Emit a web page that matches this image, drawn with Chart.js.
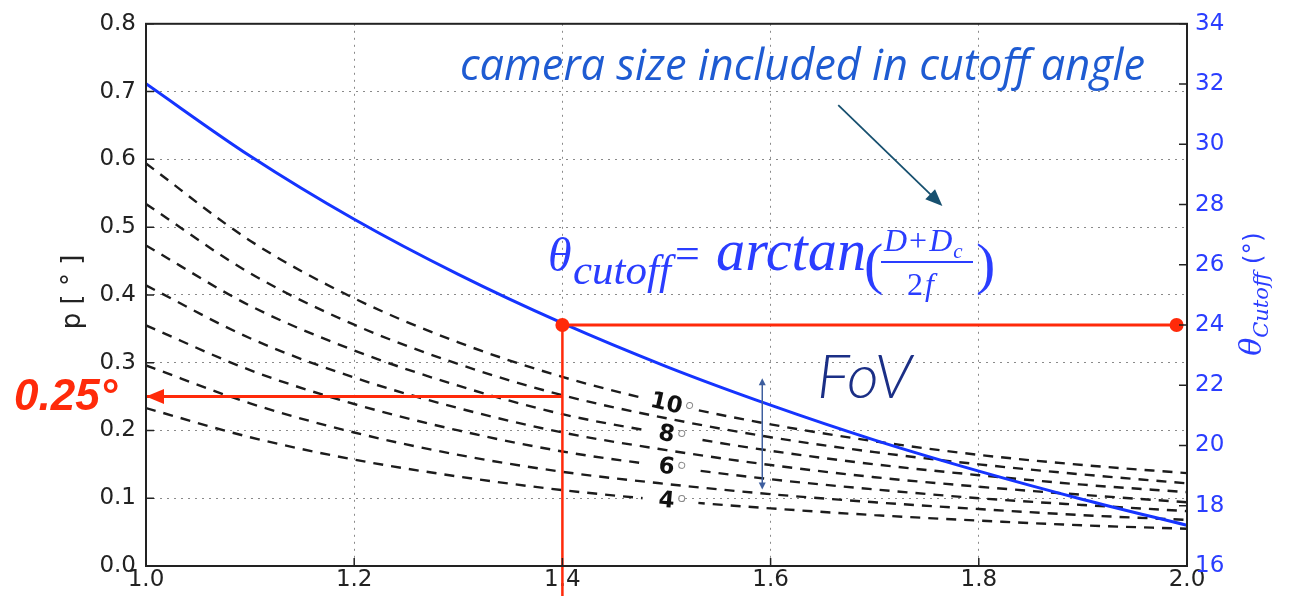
<!DOCTYPE html>
<html>
<head>
<meta charset="utf-8">
<script src="https://cdn.jsdelivr.net/npm/chart.js@4/dist/chart.umd.min.js"></script>
<style>
  html, body { margin: 0; padding: 0; background: #fff; }
  #wrap { width: 1290px; height: 597px; position: relative; }
</style>
</head>
<body>
<div id="wrap"><canvas id="cutoffChart"></canvas></div>
<script>
// focal length (x) and the cutoff angle curve (right axis, degrees)
const focal = [1.0, 1.1, 1.2, 1.3, 1.4, 1.5, 1.6, 1.7, 1.8, 1.9, 2.0];
const cutoffDeg = [32.01, 29.61, 27.51, 25.68, 24.06, 22.62, 21.34, 20.18, 19.15, 18.21, 17.35];

// pitch p [deg] for each FoV
const pitchFov10 = [0.594, 0.480, 0.395, 0.330, 0.279, 0.240, 0.209, 0.184, 0.164, 0.149, 0.137];
const pitchFov9  = [0.534, 0.432, 0.356, 0.298, 0.252, 0.218, 0.190, 0.168, 0.150, 0.135, 0.122];
const pitchFov8  = [0.473, 0.384, 0.318, 0.266, 0.224, 0.195, 0.170, 0.150, 0.134, 0.120, 0.109];
const pitchFov7  = [0.414, 0.336, 0.278, 0.233, 0.197, 0.171, 0.149, 0.131, 0.117, 0.105, 0.094];
const pitchFov6  = [0.355, 0.289, 0.239, 0.200, 0.169, 0.147, 0.128, 0.113, 0.100, 0.090, 0.081];
const pitchFov5  = [0.296, 0.240, 0.197, 0.164, 0.139, 0.121, 0.106, 0.094, 0.084, 0.075, 0.068];
const pitchFov4  = [0.233, 0.190, 0.157, 0.132, 0.112, 0.097, 0.085, 0.075, 0.067, 0.060, 0.055];
const pitchSeries = [pitchFov10, pitchFov9, pitchFov8, pitchFov7, pitchFov6, pitchFov5, pitchFov4];

// labelled curves
const fovLabels = [
  { series: pitchFov10, text: '10' },
  { series: pitchFov8, text: '8' },
  { series: pitchFov6, text: '6' },
  { series: pitchFov4, text: '4' }
];
const labelFocal = 1.5;

// the worked example in red
const markFocal = 1.4;
const markCutoff = 24;
const markPitch = 0.25;
const markEndFocal = 1.99;

// annotation arrows (data coords)
const fovArrow = { x: 1.592, from: 0.277, to: 0.113 };
const noteArrow = { x1: 1.665, y1: 31.3, x2: 1.765, y2: 27.95 };

const red = '#ff2a0a';
const curveBlue = '#1534ff';
const axisBlue = '#2a3dff';
const tickFont = { family: '"DejaVu Sans", sans-serif', size: 23 };

const xy = (arr) => focal.map((f, i) => ({ x: f, y: arr[i] }));

const datasets = [
  {
    data: [{ x: markFocal, y: markCutoff }, { x: markEndFocal, y: markCutoff }],
    yAxisID: 'y1', borderColor: red, backgroundColor: red, borderWidth: 3,
    pointRadius: 7, pointBorderWidth: 0, clip: false
  },
  {
    data: [{ x: markFocal, y: markCutoff }, { x: markFocal, y: 15 }],
    yAxisID: 'y1', borderColor: red, borderWidth: 2.5, pointRadius: 0, clip: false
  },
  {
    data: [{ x: markFocal, y: markPitch }, { x: 1.0, y: markPitch }],
    yAxisID: 'y', borderColor: red, borderWidth: 3, pointRadius: 0
  },
  {
    data: xy(cutoffDeg), yAxisID: 'y1', borderColor: curveBlue, borderWidth: 3,
    pointRadius: 0, cubicInterpolationMode: 'monotone'
  }
];
pitchSeries.forEach(s => datasets.push({
  data: xy(s), yAxisID: 'y', borderColor: '#1c1c1c', borderWidth: 2.4,
  borderDash: [10, 8], pointRadius: 0, cubicInterpolationMode: 'monotone'
}));

function arrowHead(ctx, x1, y1, x2, y2, len, half) {
  const a = Math.atan2(y2 - y1, x2 - x1);
  ctx.beginPath();
  ctx.moveTo(x2, y2);
  ctx.lineTo(x2 - len * Math.cos(a) + half * Math.sin(a), y2 - len * Math.sin(a) - half * Math.cos(a));
  ctx.lineTo(x2 - len * Math.cos(a) - half * Math.sin(a), y2 - len * Math.sin(a) + half * Math.cos(a));
  ctx.closePath();
  ctx.fill();
}

function fitFont(ctx, text, style, family, width) {
  ctx.font = style + ' 40px ' + family;
  const size = 40 * width / ctx.measureText(text).width;
  ctx.font = style + ' ' + size.toFixed(1) + 'px ' + family;
}

// draw pieces left to right, returns end x
function runText(ctx, x, parts) {
  parts.forEach(p => {
    ctx.font = p.f;
    x += p.pre || 0;
    ctx.fillText(p.t, x, p.y);
    x += ctx.measureText(p.t).width + (p.post || 0);
  });
  return x;
}

const overlay = {
  id: 'overlay',
  afterDatasetsDraw(chart) {
    const { ctx, chartArea: a, scales: { x, y, y1 } } = chart;
    ctx.save();

    // inline FoV labels, rotated along their curve
    const i = focal.indexOf(labelFocal);
    fovLabels.forEach(l => {
      const px = x.getPixelForValue(labelFocal);
      const py = y.getPixelForValue(l.series[i]);
      const ang = Math.atan2(y.getPixelForValue(l.series[i + 1]) - y.getPixelForValue(l.series[i - 1]),
        x.getPixelForValue(focal[i + 1]) - x.getPixelForValue(focal[i - 1]));
      ctx.save();
      ctx.translate(px, py);
      ctx.rotate(ang);
      ctx.strokeStyle = '#fff';
      ctx.lineWidth = 6;
      ctx.beginPath(); ctx.moveTo(-24, 0); ctx.lineTo(32, 0); ctx.stroke();
      ctx.fillStyle = '#111';
      ctx.font = 'bold 23px "DejaVu Sans"';
      ctx.textAlign = 'center';
      ctx.textBaseline = 'middle';
      ctx.fillText(l.text, 0, 1);
      const w = ctx.measureText(l.text).width;
      ctx.strokeStyle = '#8a8a8a';
      ctx.lineWidth = 1;
      ctx.beginPath(); ctx.arc(w / 2 + 7, -3, 3, 0, Math.PI * 2); ctx.stroke();
      ctx.restore();
    });

    // arrowhead of the red 0.25 arrow
    ctx.fillStyle = red;
    arrowHead(ctx, x.getPixelForValue(markFocal), y.getPixelForValue(markPitch),
      x.getPixelForValue(1.0), y.getPixelForValue(markPitch), 18, 7.5);

    // FoV double arrow
    const fx = x.getPixelForValue(fovArrow.x);
    const fy1 = y.getPixelForValue(fovArrow.from), fy2 = y.getPixelForValue(fovArrow.to);
    ctx.strokeStyle = '#3d5e9e'; ctx.fillStyle = '#3d5e9e'; ctx.lineWidth = 1.5;
    ctx.beginPath(); ctx.moveTo(fx, fy1 + 4); ctx.lineTo(fx, fy2 - 4); ctx.stroke();
    arrowHead(ctx, fx, fy2, fx, fy1, 7, 3.5);
    arrowHead(ctx, fx, fy1, fx, fy2, 7, 3.5);

    // note arrow
    const nx1 = x.getPixelForValue(noteArrow.x1), ny1 = y1.getPixelForValue(noteArrow.y1);
    const nx2 = x.getPixelForValue(noteArrow.x2), ny2 = y1.getPixelForValue(noteArrow.y2);
    ctx.strokeStyle = '#17506f'; ctx.fillStyle = '#17506f'; ctx.lineWidth = 1.8;
    ctx.beginPath(); ctx.moveTo(nx1, ny1); ctx.lineTo(nx2 - 8, ny2 - 8); ctx.stroke();
    arrowHead(ctx, nx1, ny1, nx2, ny2, 17, 7);

    // frame and inward ticks
    ctx.strokeStyle = '#222';
    ctx.lineWidth = 2;
    ctx.strokeRect(a.left, a.top, a.right - a.left, a.bottom - a.top);
    ctx.lineWidth = 1.5;
    ctx.beginPath();
    y.ticks.forEach(t => { const p = y.getPixelForValue(t.value); ctx.moveTo(a.left, p); ctx.lineTo(a.left + 8, p); });
    y1.ticks.forEach(t => { const p = y1.getPixelForValue(t.value); ctx.moveTo(a.right, p); ctx.lineTo(a.right - 8, p); });
    x.ticks.forEach(t => { const p = x.getPixelForValue(t.value); ctx.moveTo(p, a.bottom); ctx.lineTo(p, a.bottom - 8); });
    ctx.stroke();
    ctx.restore();
  },
  afterDraw(chart) {
    const { ctx } = chart;
    ctx.save();
    ctx.textBaseline = 'alphabetic';
    ctx.textAlign = 'left';

    // left axis title
    ctx.save();
    ctx.translate(80, 292);
    ctx.rotate(-Math.PI / 2);
    ctx.fillStyle = '#222';
    ctx.font = '26px "DejaVu Sans"';
    ctx.textAlign = 'center';
    ctx.fillText('p [ ° ]', 0, 0);
    ctx.restore();

    // right axis title: θ_Cutoff (°)
    ctx.save();
    ctx.translate(1261, 294);
    ctx.rotate(-Math.PI / 2);
    ctx.fillStyle = axisBlue;
    const parts = [
      { t: 'θ', f: 'italic 30px "DejaVu Serif"', dy: 0 },
      { t: 'Cutoff', f: 'italic 21px "DejaVu Serif"', dy: 7 },
      { t: ' (°)', f: '25px "DejaVu Sans"', dy: 0 }
    ];
    let total = 0;
    parts.forEach(p => { ctx.font = p.f; p.w = ctx.measureText(p.t).width; total += p.w; });
    let cx = -total / 2;
    parts.forEach(p => { ctx.font = p.f; ctx.fillText(p.t, cx, p.dy); cx += p.w; });
    ctx.restore();

    // red 0.25°
    ctx.fillStyle = red;
    ctx.font = 'italic bold 44px "Liberation Sans"';
    ctx.fillText('0.25°', 14, 410);

    // note text
    ctx.fillStyle = '#1e5bd2';
    fitFont(ctx, 'camera size included in cutoff angle', 'italic', '"Open Sans"', 685);
    ctx.fillText('camera size included in cutoff angle', 460, 80);

    // FoV
    ctx.fillStyle = '#1b2f86';
    fitFont(ctx, 'FoV', 'italic 300', 'Lato', 95);
    ctx.fillText('FoV', 817, 398);

    // formula
    ctx.fillStyle = axisBlue;
    const serif = '"Liberation Serif"';
    ctx.font = 'italic 48px ' + serif;
    ctx.fillText('θ', 548, 271);
    fitFont(ctx, 'cutoff', 'italic', serif, 98);
    ctx.fillText('cutoff', 573, 284);
    ctx.font = '44px ' + serif;
    ctx.fillText('=', 675, 268);
    fitFont(ctx, 'arctan', 'italic', serif, 150);
    ctx.fillText('arctan', 716, 270);
    ctx.font = '58px ' + serif;
    ctx.fillText('(', 864, 283);
    ctx.fillText(')', 976, 283);
    // fraction (D + D_c) / 2f
    const numParts = [
      { t: 'D', f: 'italic 32px ' + serif, y: 251 },
      { t: '+', f: '32px ' + serif, y: 251, pre: 2, post: 2 },
      { t: 'D', f: 'italic 32px ' + serif, y: 251 },
      { t: 'c', f: 'italic 21px ' + serif, y: 258, pre: 1 }
    ];
    runText(ctx, 884, numParts);
    ctx.fillRect(881, 261, 92, 2);
    runText(ctx, 907, [
      { t: '2', f: '32px ' + serif, y: 295 },
      { t: 'f', f: 'italic 32px ' + serif, y: 295, pre: 2 }
    ]);
    ctx.restore();
  }
};

new Chart(document.getElementById('cutoffChart'), {
  type: 'line',
  data: { datasets },
  options: {
    responsive: true,
    maintainAspectRatio: false,
    animation: false,
    layout: { padding: { top: 23, left: 0, right: 0, bottom: 0 } },
    plugins: { legend: { display: false }, tooltip: { enabled: false } },
    scales: {
      x: {
        type: 'linear', min: 1.0, max: 2.0,
        afterFit(s) { s.height = 31; },
        ticks: { stepSize: 0.2, color: '#222', font: tickFont, padding: 0, maxRotation: 0,
          callback: v => v.toFixed(1) },
        grid: { color: '#8a8a8a', lineWidth: 1, drawTicks: false },
        border: { display: false, dash: [2, 5] }
      },
      y: {
        position: 'left', min: 0, max: 0.8,
        afterFit(s) { s.width = 146; },
        ticks: { stepSize: 0.1, color: '#222', font: tickFont, padding: 10,
          callback: v => v.toFixed(1) },
        grid: { color: '#8a8a8a', lineWidth: 1, drawTicks: false },
        border: { display: false, dash: [2, 5] }
      },
      y1: {
        position: 'right', min: 16, max: 34,
        afterFit(s) { s.width = 103; },
        ticks: { stepSize: 2, color: axisBlue, font: tickFont, padding: 8 },
        grid: { display: false, drawTicks: false },
        border: { display: false }
      }
    }
  },
  plugins: [overlay]
});
</script>
</body>
</html>
